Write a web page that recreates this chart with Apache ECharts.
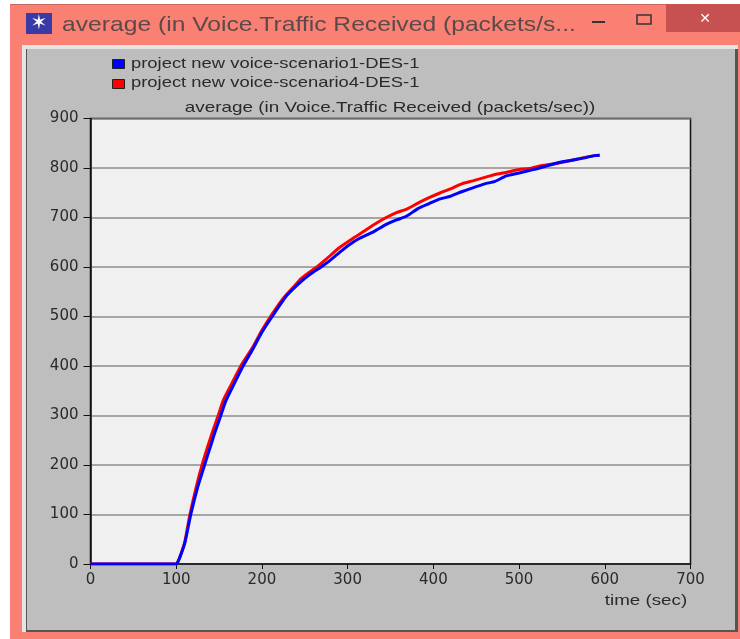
<!DOCTYPE html>
<html><head><meta charset="utf-8">
<style>html,body{margin:0;padding:0;background:#fff}#c{width:740px;height:639px;filter:blur(0.45px)}</style>
<script src="https://cdn.jsdelivr.net/npm/echarts@6/dist/echarts.min.js"></script>
</head><body><div id="c"></div>
<script>
const seriesNames = ['project new voice-scenario1-DES-1','project new voice-scenario4-DES-1'];
const chartTitle = 'average (in Voice.Traffic Received (packets/sec))';
const windowTitle = 'average (in Voice.Traffic Received (packets/s...';
const xAxisName = 'time (sec)';
const blueT = [0,50,100,101,104,110,117,125,134,141,145,152,158,167,178,190,200,212,228,238,250,260,269,280,291,302,314,330,345,357,369,382,395,407,420,433,446,460,472,485,500,512,524,540,552,563,575,588,594];
const blueV = [0,0,0,1,12,42,100,155,205,243,265,300,330,362,400,436,468,500,540,558,577,590,600,614,630,645,658,671,686,695,703,718,728,737,743,752,760,768,773,784,790,795,800,808,813,816,820,825,826];
const redT = [0,50,100,101,104,110,116,124,131,142,149,155,165,177,190,200,210,225,237,246,255,264,275,291,308,318,330,345,357,369,382,395,407,420,433,446,460,472,485,500,512,524,540,552,563,575,588,594];
const redV = [0,0,0,1,13,45,100,160,205,265,300,331,365,405,440,472,500,537,560,577,589,600,616,640,660,671,685,700,710,717,729,740,749,758,768,774,781,787,791,797,799,804,808,812,816,821,825,826];
const pair = (t,v)=>t.map((x,i)=>[x,v[i]]);
const font = 'DejaVu Sans';
const bodyFont = 'Liberation Sans';
const txt = '#2a2a2a';
const stretched = (text,x,y,size,scaleX,align,fill)=>({type:'text',silent:true,z:5,x,y,scaleX,
  style:{x:0,y:0,text,fill,fontSize:size,align,verticalAlign:'middle',fontFamily:bodyFont}});
const chart = echarts.init(document.getElementById('c'),null,{renderer:'canvas'});
chart.setOption({
 animation:false,
 backgroundColor:'#fff',
 legend:{left:112,top:59,padding:0,orient:'vertical',itemWidth:12,itemHeight:9,itemGap:10,selectedMode:false,
  formatter:()=>'',
  textStyle:{fontSize:9,padding:0},
  data:[{name:seriesNames[0],icon:'rect',itemStyle:{color:'#0000ff',borderColor:'#222',borderWidth:1}},
        {name:seriesNames[1],icon:'rect',itemStyle:{color:'#ff0000',borderColor:'#222',borderWidth:1}}]},
 grid:{left:90.5,top:118.5,width:600,height:445.5,show:true,backgroundColor:'#f0f0f0',borderColor:'#111',borderWidth:1.5,containLabel:false},
 xAxis:{type:'value',min:0,max:700,interval:100,
  axisLine:{show:true,onZero:false,lineStyle:{color:'#111',width:1.5}},
  axisTick:{show:true,length:5,lineStyle:{color:'#111',width:1}},
  axisLabel:{fontFamily:font,fontSize:15,color:txt,margin:9,formatter:v=>String(v)},
  splitLine:{show:false}},
 yAxis:{type:'value',min:0,max:900,interval:100,
  axisLine:{show:true,lineStyle:{color:'#111',width:1.5}},
  axisTick:{show:true,length:7,lineStyle:{color:'#111',width:1}},
  axisLabel:{fontFamily:font,fontSize:15,color:txt,margin:12,formatter:v=>String(v)},
  splitLine:{show:true,lineStyle:{color:'#8c8c8c',width:1.5}}},
 series:[
  {name:seriesNames[0],type:'line',data:pair(blueT,blueV),z:4,showSymbol:false,lineStyle:{color:'#0000ff',width:3},itemStyle:{color:'#0000ff'},smooth:0.2},
  {name:seriesNames[1],type:'line',data:pair(redT,redV),z:3,showSymbol:false,lineStyle:{color:'#ff0000',width:3},itemStyle:{color:'#ff0000'},smooth:0.2}
 ],
 graphic:[
  {type:'rect',z:-10,silent:true,shape:{x:10,y:4,width:730,height:635},style:{fill:'#f98072'}},
  {type:'rect',z:-10,silent:true,shape:{x:10,y:4,width:730,height:1},style:{fill:'#c9665c'}},
  {type:'rect',z:-9,silent:true,shape:{x:22,y:45,width:716,height:587},style:{fill:'#e4e4e4'}},
  {type:'rect',z:-9,silent:true,shape:{x:26,y:49,width:712,height:583},style:{fill:'#555'}},
  {type:'rect',z:-8,silent:true,shape:{x:27,y:49,width:708,height:581},style:{fill:'#bebebe'}},
  {type:'rect',z:-7,silent:true,shape:{x:666,y:4,width:74,height:28},style:{fill:'#c75050'}},
  {type:'rect',z:-7,silent:true,shape:{x:26,y:13,width:26,height:21},style:{fill:'#3a3aa6'}},
  {type:'text',z:-6,silent:true,style:{x:39,y:24,text:'✶',fill:'#fff',fontSize:20,align:'center',verticalAlign:'middle',fontFamily:'DejaVu Sans'}},
  {type:'rect',z:-6,silent:true,shape:{x:592,y:21,width:13,height:2},style:{fill:'#333'}},
  {type:'rect',z:-6,silent:true,shape:{x:637,y:15,width:14,height:9},style:{fill:'none',stroke:'#333',lineWidth:1.5}},
  {type:'text',z:-6,silent:true,style:{x:705,y:19,text:'✕',fill:'#fff',fontSize:14,align:'center',verticalAlign:'middle',fontFamily:'DejaVu Sans',fontWeight:'bold'}},
  stretched(windowTitle,62,25,21,1.174,'left','#5b4a4a'),
  stretched(seriesNames[0],131,64,14.5,1.269,'left',txt),
  stretched(seriesNames[1],131,83,14.5,1.269,'left',txt),
  stretched(chartTitle,390,108,14.5,1.303,'center',txt),
  stretched(xAxisName,646,601,14.5,1.294,'center',txt)
 ]
});
</script></body></html>
